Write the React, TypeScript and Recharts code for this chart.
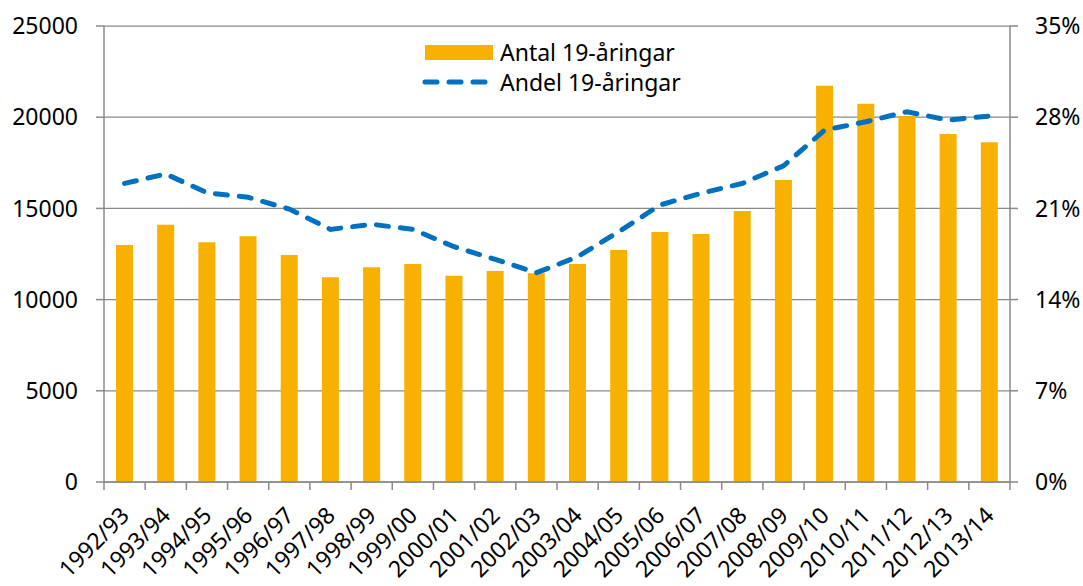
import React from 'react';
import {
  ComposedChart,
  Bar,
  Line,
  XAxis,
  YAxis,
  CartesianGrid,
} from 'recharts';

const years = [
  '1992/93', '1993/94', '1994/95', '1995/96', '1996/97', '1997/98', '1998/99',
  '1999/00', '2000/01', '2001/02', '2002/03', '2003/04', '2004/05', '2005/06',
  '2006/07', '2007/08', '2008/09', '2009/10', '2010/11', '2011/12', '2012/13',
  '2013/14',
];

// Antal 19-åringar
const counts = [
  13000, 14100, 13150, 13470, 12450, 11220, 11770, 11950, 11310, 11570, 11440,
  11950, 12720, 13710, 13600, 14860, 16560, 21730, 20740, 20070, 19080, 18620,
];

// Andel 19-åringar (fraction)
const shares = [
  0.2292, 0.2364, 0.222, 0.2185, 0.2095, 0.1939, 0.1978, 0.1939, 0.1806, 0.1709,
  0.1606, 0.1729, 0.1921, 0.2126, 0.2216, 0.2292, 0.2427, 0.2701, 0.2765, 0.2842,
  0.2778, 0.2809,
];

const leftTicks = [0, 5000, 10000, 15000, 20000, 25000];
const rightTicks = [0, 0.07, 0.14, 0.21, 0.28, 0.35];

const data = years.map((year, i) => ({ year, antal: counts[i], andel: shares[i] }));

const FONT = '"Noto Sans", sans-serif';
const GRID = '#8a8a8a';
const BAR = '#F8B100';
const LINE = '#0070C0';

const WIDTH = 1083;
const HEIGHT = 586;
const LEFT_W = 104;
const RIGHT_W = 73;
const BAND = (WIDTH - LEFT_W - RIGHT_W) / years.length;

function YearTick(props: any) {
  const { x, y, payload, index } = props;
  const last = index === years.length - 1;
  return (
    <g>
      <line x1={x - BAND / 2} x2={x - BAND / 2} y1={y - 8} y2={y} stroke={GRID} strokeWidth={1.5} />
      {last && (
        <line x1={x + BAND / 2} x2={x + BAND / 2} y1={y - 8} y2={y} stroke={GRID} strokeWidth={1.5} />
      )}
      <g transform={`translate(${x + 6},${y + 27})`}>
        <text
          transform="rotate(-45)"
          textAnchor="end"
          fontFamily={FONT}
          fontSize={23}
          fill="#000"
        >
          {payload.value}
        </text>
      </g>
    </g>
  );
}

function ChartLegend() {
  return (
    <svg
      width={300}
      height={70}
      style={{ position: 'absolute', left: 420, top: 35 }}
    >
      <rect x={5} y={10} width={68} height={15} fill={BAR} />
      <text x={80} y={18} dy="0.355em" fontFamily={FONT} fontSize={23} fill="#000">
        Antal 19-åringar
      </text>
      <line
        x1={5}
        x2={67}
        y1={47}
        y2={47}
        stroke={LINE}
        strokeWidth={5}
        strokeDasharray="12 12"
        strokeLinecap="round"
      />
      <text x={80} y={48} dy="0.355em" fontFamily={FONT} fontSize={23} fill="#000">
        Andel 19-åringar
      </text>
    </svg>
  );
}

export default function App() {
  return (
    <div style={{ position: 'absolute', left: 0, top: 0, width: WIDTH, height: HEIGHT, background: '#fff' }}>
      <ComposedChart
        width={WIDTH}
        height={HEIGHT}
        data={data}
        margin={{ top: 26, right: 0, bottom: 0, left: 0 }}
      >
        <CartesianGrid yAxisId="left" vertical={false} stroke={GRID} strokeWidth={1.25} />
        <XAxis
          dataKey="year"
          height={104}
          interval={0}
          tickLine={false}
          tickSize={8}
          tickMargin={0}
          axisLine={{ stroke: GRID, strokeWidth: 1.5 }}
          tick={<YearTick />}
        />
        <YAxis
          yAxisId="left"
          width={LEFT_W}
          domain={[0, 25000]}
          ticks={leftTicks}
          tickSize={8}
          tickMargin={18}
          tickLine={{ stroke: GRID, strokeWidth: 1.5 }}
          axisLine={{ stroke: GRID, strokeWidth: 1.5 }}
          tick={{ fontFamily: FONT, fontSize: 23, fill: '#000' }}
        />
        <YAxis
          yAxisId="right"
          orientation="right"
          width={RIGHT_W}
          domain={[0, 0.35]}
          ticks={rightTicks}
          tickSize={8}
          tickMargin={17}
          tickLine={{ stroke: GRID, strokeWidth: 1.5 }}
          axisLine={{ stroke: GRID, strokeWidth: 1.5 }}
          tick={{ fontFamily: FONT, fontSize: 23, fill: '#000', textAnchor: 'start' }}
          tickFormatter={(v: number) => `${Math.round(v * 100)}%`}
        />
        <Bar yAxisId="left" dataKey="antal" fill={BAR} barSize={17} isAnimationActive={false} />
        <Line
          yAxisId="right"
          dataKey="andel"
          type="linear"
          stroke={LINE}
          strokeWidth={5}
          strokeDasharray="12 12"
          strokeLinecap="round"
          dot={false}
          activeDot={false}
          isAnimationActive={false}
        />
      </ComposedChart>
      <ChartLegend />
    </div>
  );
}
